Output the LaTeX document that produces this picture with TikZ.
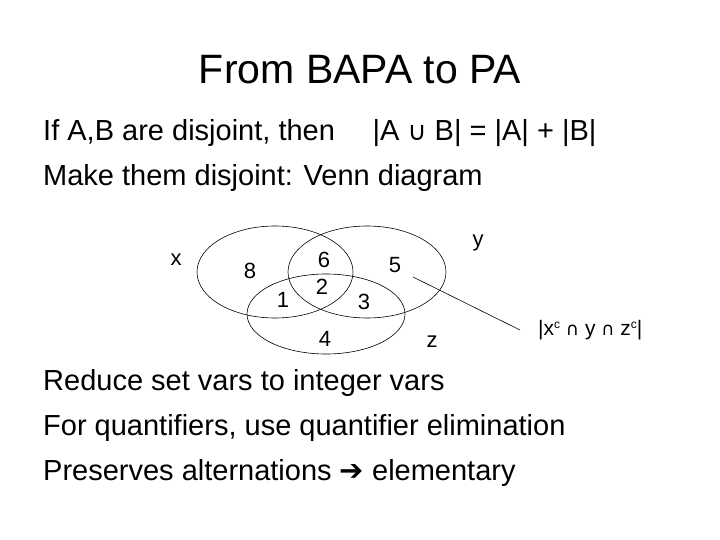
\documentclass[tikz,border=0pt]{standalone}
\usepackage{fontspec}
\setmainfont{Liberation Sans}
\newfontfamily\symf{DejaVu Sans}
\begin{document}
\begin{tikzpicture}[x=1pt,y=-1pt,
  body/.style={anchor=west,inner sep=0,font=\fontsize{29}{32}\selectfont},
  num/.style={inner sep=0,font=\fontsize{22}{24}\selectfont},
  venn/.style={draw,line width=0.6pt}]
\useasboundingbox (0,0) rectangle (720,540);
\node[inner sep=0,font=\fontsize{41}{46}\selectfont] (title) at (360,70) {From BAPA to PA};
\node[body] (l1) at (43,133) {If A,B are disjoint, then\hspace{1.3em}|A {\symf\fontsize{26}{28}\selectfont ∪} B| = |A| + |B|};
\node[body] (l2) at (43,178) {Make them disjoint: Venn diagram};
\node[body] (l3) at (43,383) {Reduce set vars to integer vars};
\node[body] (l4) at (43,428) {For quantifiers, use quantifier elimination};
\node[body] (l5) at (43,473) {Preserves alternations {\symf ➔} elementary};
\draw[venn] (275,272) ellipse [x radius=78, y radius=46];
\draw[venn] (367,272) ellipse [x radius=79, y radius=46];
\draw[venn] (326,314) ellipse [x radius=79, y radius=40];
\node[num] (x) at (176,260) {x};
\node[num] (n8) at (250,271) {8};
\node[num] (n6) at (324,260) {6};
\node[num] (n5) at (395,265) {5};
\node[num] (y) at (478,243) {y};
\node[num] (n1) at (283,300) {1};
\node[num] (n2) at (322,287) {2};
\node[num] (n3) at (364,302) {3};
\node[num] (n4) at (325,339) {4};
\node[num] (z) at (432,342) {z};
\node[num,anchor=west,font=\fontsize{21}{24}\selectfont] (lab) at (538,330) {|x\raisebox{0.6ex}{\fontsize{12}{12}\selectfont c} {\symf\fontsize{18}{20}\selectfont ∩} y {\symf\fontsize{18}{20}\selectfont ∩} z\raisebox{0.6ex}{\fontsize{12}{12}\selectfont c}|};
\coordinate (p) at (413,277);
\coordinate (q) at (520,330);
\draw[line width=0.6pt] (p) -- (q);
\end{tikzpicture}
\end{document}
